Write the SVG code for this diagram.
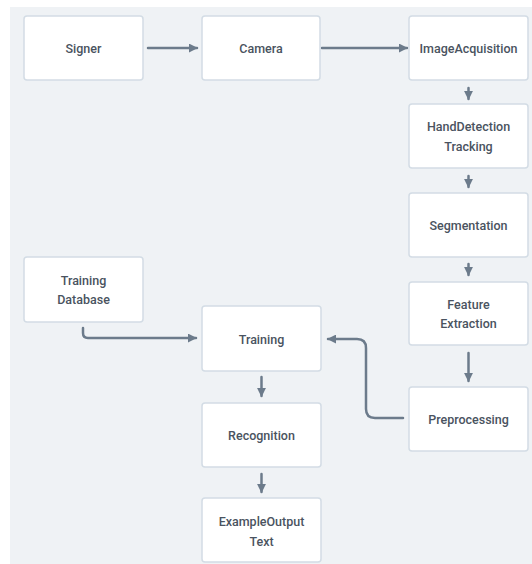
<svg xmlns="http://www.w3.org/2000/svg" width="532" height="564" viewBox="0 0 532 564">
<style>
.bg{fill:#eff2f5}
.box{fill:#ffffff;stroke:#d3dce5;stroke-width:1.5}
.lbl{font-family:Roboto,"Liberation Sans",sans-serif;font-size:12.5px;font-weight:500;fill:#4a5360;text-anchor:middle;dominant-baseline:central}
.edge{fill:none;stroke:#6c7b8b;stroke-width:2.5;stroke-linecap:round}
</style>
<defs>
<marker id="ah" viewBox="0 0 10 10" refX="9" refY="5" markerWidth="9" markerHeight="9" markerUnits="userSpaceOnUse" orient="auto">
<path d="M0,0 L10,5 L0,10 z" fill="#6c7b8b"/>
</marker>
</defs>
<rect class="bg" x="10" y="7" width="522" height="557"/>
<g id="connectors">
<line class="edge" x1="148" y1="48" x2="197" y2="48" marker-end="url(#ah)"/>
<line class="edge" x1="322" y1="48" x2="407" y2="48" marker-end="url(#ah)"/>
<line class="edge" x1="468.5" y1="88" x2="468.5" y2="99" marker-end="url(#ah)"/>
<line class="edge" x1="468.5" y1="176" x2="468.5" y2="187" marker-end="url(#ah)"/>
<line class="edge" x1="468.5" y1="264" x2="468.5" y2="275" marker-end="url(#ah)"/>
<line class="edge" x1="468.5" y1="353" x2="468.5" y2="381" marker-end="url(#ah)"/>
<line class="edge" x1="261.5" y1="377" x2="261.5" y2="396" marker-end="url(#ah)"/>
<line class="edge" x1="261.5" y1="474" x2="261.5" y2="492" marker-end="url(#ah)"/>
<path class="edge" d="M83,328 L83,333 Q83,338 88,338 L196,338" marker-end="url(#ah)"/>
<path class="edge" d="M403,418 L375,418 Q366,418 366,409 L366,348 Q366,339 357,339 L328,339" marker-end="url(#ah)"/>
</g>
<g id="signer"><rect class="box" x="24" y="16" width="119" height="64" rx="3"/><text class="lbl" x="83.5" y="48">Signer</text></g>
<g id="camera"><rect class="box" x="202" y="16" width="118" height="64" rx="3"/><text class="lbl" x="261" y="48">Camera</text></g>
<g id="imageacquisition"><rect class="box" x="409" y="16" width="119" height="64" rx="3"/><text class="lbl" x="468.5" y="48">ImageAcquisition</text></g>
<g id="handdetection"><rect class="box" x="409" y="104" width="119" height="64" rx="3"/><text class="lbl" x="468.5" y="126.5">HandDetection</text><text class="lbl" x="468.5" y="146">Tracking</text></g>
<g id="segmentation"><rect class="box" x="409" y="193" width="119" height="64" rx="3"/><text class="lbl" x="468.5" y="225">Segmentation</text></g>
<g id="featureextraction"><rect class="box" x="409" y="282" width="119" height="63" rx="3"/><text class="lbl" x="468.5" y="304">Feature</text><text class="lbl" x="468.5" y="323">Extraction</text></g>
<g id="preprocessing"><rect class="box" x="409" y="387" width="119" height="64" rx="3"/><text class="lbl" x="468.5" y="419">Preprocessing</text></g>
<g id="trainingdatabase"><rect class="box" x="24" y="257" width="119" height="65" rx="3"/><text class="lbl" x="83.5" y="280">Training</text><text class="lbl" x="83.5" y="299">Database</text></g>
<g id="training"><rect class="box" x="202" y="306" width="119" height="65" rx="3"/><text class="lbl" x="261.5" y="339">Training</text></g>
<g id="recognition"><rect class="box" x="202" y="403" width="119" height="64" rx="3"/><text class="lbl" x="261.5" y="435">Recognition</text></g>
<g id="exampleoutput"><rect class="box" x="202" y="498" width="119" height="64" rx="3"/><text class="lbl" x="261.5" y="521">ExampleOutput</text><text class="lbl" x="261.5" y="541">Text</text></g>
</svg>
